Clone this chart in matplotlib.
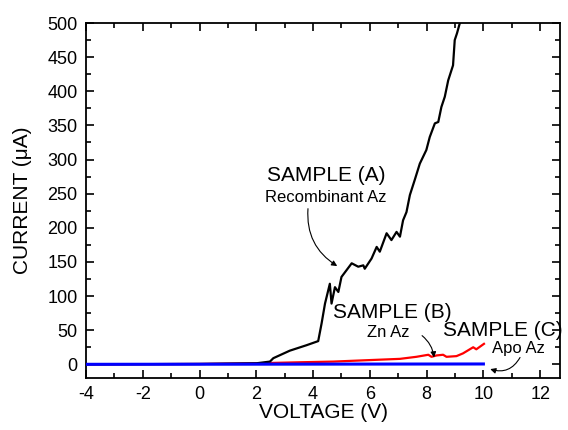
import matplotlib
matplotlib.use("Agg")
import matplotlib.pyplot as plt
from matplotlib.ticker import MultipleLocator

plt.rcParams['font.family'] = ['Liberation Sans', 'DejaVu Sans']
plt.rcParams['axes.unicode_minus'] = False

# Sample A (Recombinant Az)
a_v = [-4.0, 0.0, 2.0, 2.48, 2.6, 3.18, 3.77, 4.18, 4.30, 4.42, 4.59, 4.65, 4.77, 4.89, 5.0, 5.18,
       5.36, 5.59, 5.77, 5.82, 6.06, 6.24, 6.35, 6.59, 6.76, 6.94, 7.06, 7.17, 7.29, 7.41,
       7.58, 7.76, 7.99, 8.11, 8.29, 8.41, 8.52, 8.64, 8.76, 8.93, 8.99, 9.07, 9.17]
a_i = [0.0, 0.5, 1.5, 4, 9, 20, 28, 34, 60, 89, 118, 89, 113, 106, 128, 138,
       148, 143, 145, 140, 155, 172, 165, 192, 182, 194, 187, 211, 223, 248,
       270, 294, 314, 333, 353, 355, 377, 392, 416, 438, 475, 485, 500]

# Sample B (Zn Az)
b_v = [-4.0, 0.0, 2.0, 3.54, 4.71, 5.88, 7.06, 7.64, 8.06, 8.17, 8.35, 8.58, 8.70, 9.05,
       9.28, 9.52, 9.64, 9.75, 10.02]
b_i = [0.0, 0.5, 1.5, 3, 4, 6, 8, 11, 14, 11, 13, 14, 11, 12, 16, 22, 25, 22, 30]

# Sample C (Apo Az)
c_v = [-4.0, 10.0]
c_i = [0.0, 0.5]

fig = plt.figure(figsize=(5.68, 4.30), dpi=100)
ax = fig.add_axes([0.1514, 0.121, 0.8346, 0.8255])

ax.plot(a_v, a_i, color='black', lw=1.6, zorder=3)
ax.plot(b_v, b_i, color='#ff0000', lw=1.6, zorder=2)
ax.plot(c_v, c_i, color='#0000ff', lw=2.2, zorder=4)

ax.set_xlim(-4, 12.7)
ax.set_ylim(-20, 500)
ax.xaxis.set_major_locator(MultipleLocator(2))
ax.xaxis.set_minor_locator(MultipleLocator(1))
ax.yaxis.set_major_locator(MultipleLocator(50))
ax.yaxis.set_minor_locator(MultipleLocator(25))
ax.tick_params(which='both', direction='in', top=True, right=True, width=1.2, labelsize=13)
ax.tick_params(which='major', length=6, pad=6)
ax.tick_params(which='minor', length=3.5)
for s in ax.spines.values():
    s.set_linewidth(1.3)

ax.set_xlabel('VOLTAGE (V)', fontsize=15, labelpad=0)
ax.set_ylabel('CURRENT (\u03bcA)', fontsize=15, labelpad=11)

ax.text(4.46, 277, 'SAMPLE (A)', fontsize=15, ha='center', va='center')
ax.text(4.46, 245, 'Recombinant Az', fontsize=12, ha='center', va='center')
ax.annotate('', xy=(4.85, 144), xytext=(3.82, 228),
            arrowprops=dict(arrowstyle='-|>', connectionstyle='arc3,rad=0.3', lw=0.8,
                            color='black', mutation_scale=8, shrinkA=0, shrinkB=0))

ax.text(6.78, 76, 'SAMPLE (B)', fontsize=15, ha='center', va='center')
ax.text(6.64, 46, 'Zn Az', fontsize=12, ha='center', va='center')
ax.annotate('', xy=(8.26, 10), xytext=(7.84, 42),
            arrowprops=dict(arrowstyle='-|>', connectionstyle='arc3,rad=-0.2', lw=0.8,
                            color='black', mutation_scale=8, shrinkA=0, shrinkB=0))

ax.text(10.70, 49, 'SAMPLE (C)', fontsize=15, ha='center', va='center')
ax.text(11.22, 23, 'Apo Az', fontsize=12, ha='center', va='center')
ax.annotate('', xy=(10.24, -7), xytext=(11.29, 10),
            arrowprops=dict(arrowstyle='-|>', connectionstyle='arc3,rad=-0.4', lw=0.8,
                            color='black', mutation_scale=8, shrinkA=0, shrinkB=0))

fig.savefig('out.png', dpi=100)
